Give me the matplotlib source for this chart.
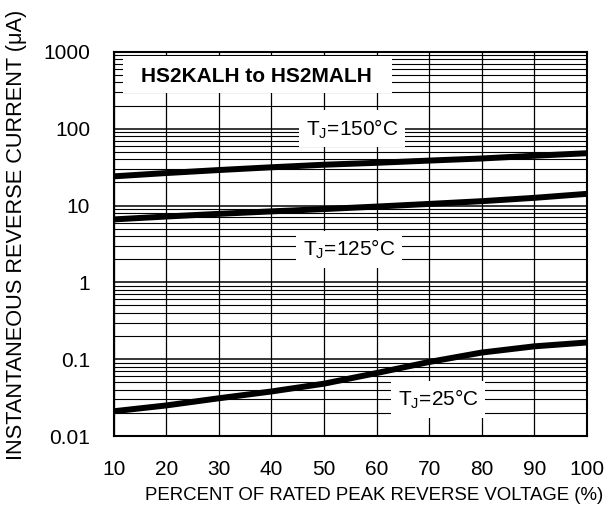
import matplotlib
matplotlib.use("Agg")
import matplotlib.pyplot as plt
from matplotlib.patches import Rectangle
import numpy as np

plt.rcParams['font.family'] = ['Liberation Sans', 'DejaVu Sans']

# data
voltage_pct = [10, 20, 30, 40, 50, 60, 70, 80, 90, 100]
i_150 = [24, 26.5, 29, 31.5, 34, 36, 38.5, 41, 44.5, 48]
i_125 = [6.6, 7.2, 7.8, 8.4, 9.0, 9.7, 10.5, 11.4, 12.6, 14.2]
i_25 = [0.021, 0.025, 0.031, 0.038, 0.048, 0.066, 0.092, 0.122, 0.147, 0.165]

x_ticks = [10, 20, 30, 40, 50, 60, 70, 80, 90, 100]
y_ticks = [0.01, 0.1, 1, 10, 100, 1000]
y_labels = ['0.01', '0.1', '1', '10', '100', '1000']

fig = plt.figure(figsize=(6.05, 5.09), dpi=100)
ax = fig.add_axes([0.188, 0.1434, 0.782, 0.7546])

ax.set_yscale('log')
ax.set_xlim(10, 100)
ax.set_ylim(0.01, 1000)

# grid: every 10 % on x, every log minor step on y
for xv in x_ticks:
    ax.axvline(xv, color='black', lw=0.9, zorder=1)
for dec in [0.01, 0.1, 1, 10, 100]:
    for m in range(1, 10):
        ax.axhline(dec * m, color='black', lw=1.1 if m == 1 else 0.8, zorder=1)

ax.plot(voltage_pct, i_150, color='black', lw=4.3, zorder=3, solid_capstyle='round')
ax.plot(voltage_pct, i_125, color='black', lw=4.3, zorder=3, solid_capstyle='round')
ax.plot(voltage_pct, i_25, color='black', lw=4.3, zorder=3, solid_capstyle='round')

# white panel behind the part number
ax.add_patch(Rectangle((0.019, 0.893), 0.569, 0.097, transform=ax.transAxes,
                       facecolor='white', edgecolor='none', zorder=4))
ax.text(37.1, 476, 'HS2KALH to HS2MALH', fontsize=15, fontweight='bold',
        va='center', ha='center', zorder=5)

box = dict(facecolor='white', edgecolor='none', pad=5)
ax.text(55.3, 100, 'T$_\\mathregular{J}$=150°C', fontsize=15, va='center', ha='center',
        bbox=box, zorder=4)
ax.text(54.8, 2.7, 'T$_\\mathregular{J}$=125°C', fontsize=15, va='center', ha='center',
        bbox=box, zorder=4)
ax.text(71.7, 0.030, 'T$_\\mathregular{J}$=25°C', fontsize=15, va='center', ha='center',
        bbox=box, zorder=4)

ax.set_xticks(x_ticks)
ax.set_xticklabels([str(v) for v in x_ticks])
ax.set_yticks(y_ticks)
ax.set_yticklabels(y_labels)
ax.yaxis.set_minor_locator(matplotlib.ticker.NullLocator())
ax.tick_params(axis='both', which='both', length=0, labelsize=15)
ax.tick_params(axis='x', pad=17)
ax.tick_params(axis='y', pad=17)

ax.set_xlabel('PERCENT OF RATED PEAK REVERSE VOLTAGE (%)', fontsize=13.4)
ax.xaxis.set_label_coords(0.55, -0.133)
ax.set_ylabel('INSTANTANEOUS REVERSE CURRENT (\u03bcA)', fontsize=15.7)
ax.yaxis.set_label_coords(-0.184, 0.523)

for s in ax.spines.values():
    s.set_linewidth(1.5)
    s.set_zorder(6)

fig.savefig('out.png', dpi=100)
